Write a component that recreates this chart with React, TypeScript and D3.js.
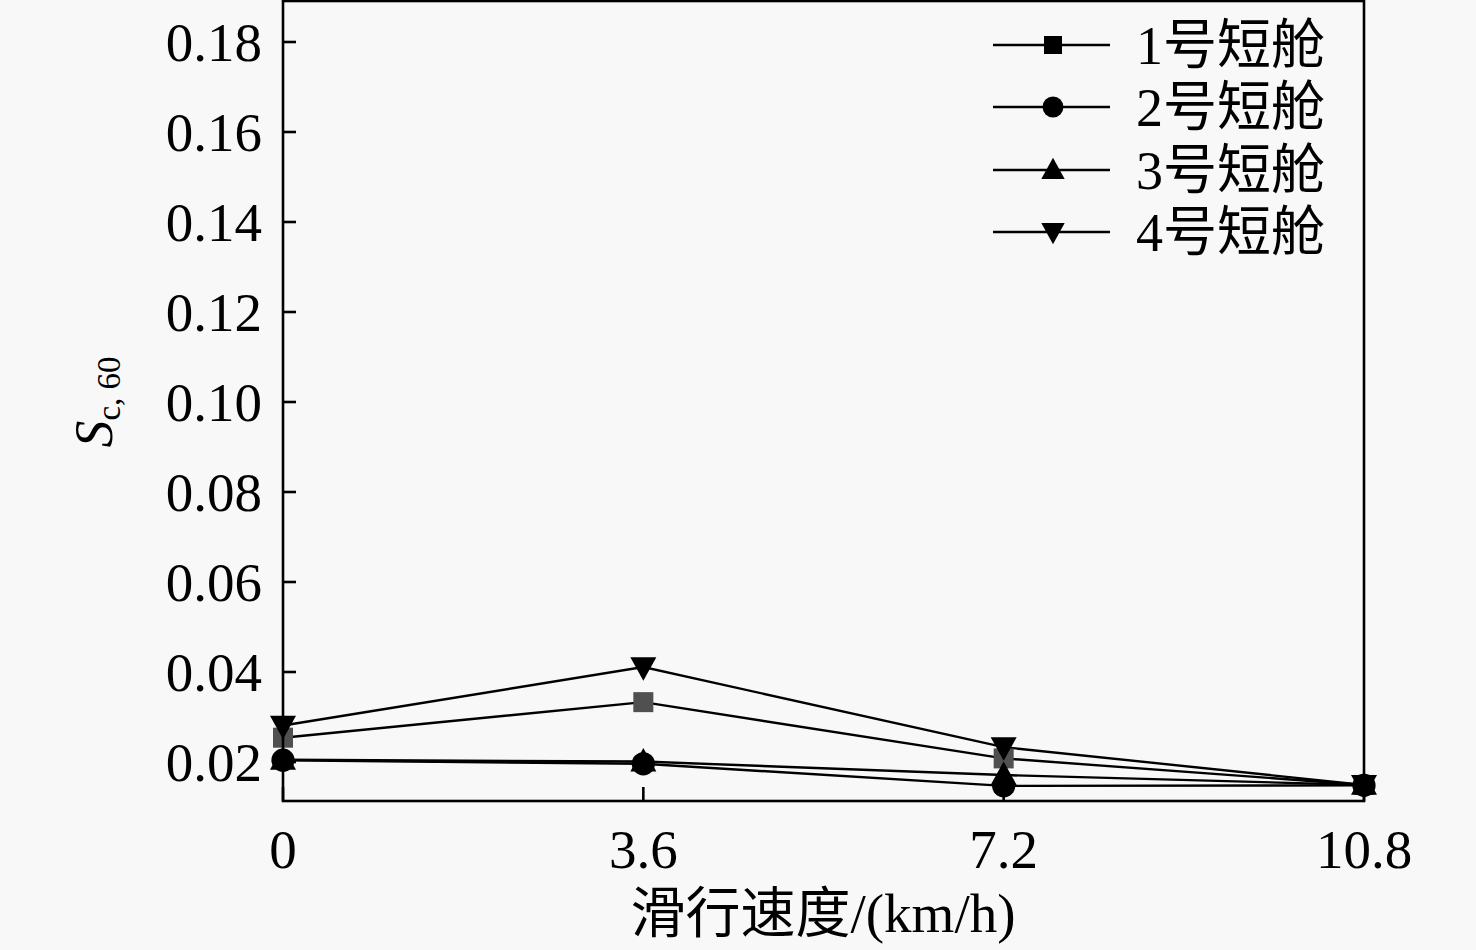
import React, { useEffect, useRef } from "react";
import * as d3 from "d3";

const speeds = [0, 3.6, 7.2, 10.8];
const xTickLabels = ["0", "3.6", "7.2", "10.8"];
const yTicks = [0.02, 0.04, 0.06, 0.08, 0.1, 0.12, 0.14, 0.16, 0.18];
const seriesNames = ["1号短舱", "2号短舱", "3号短舱", "4号短舱"];
const seriesSymbols = ["square", "circle", "triangleUp", "triangleDown"];
const nacelle1 = [0.0254, 0.0333, 0.0208, 0.0149];
const nacelle2 = [0.0204, 0.0196, 0.0147, 0.0148];
const nacelle3 = [0.0205, 0.0201, 0.0171, 0.0149];
const nacelle4 = [0.0281, 0.0411, 0.0233, 0.0149];
const seriesValues = [nacelle1, nacelle2, nacelle3, nacelle4];
const xTitle = "滑行速度/(km/h)";

const W = 1476;
const H = 950;

export default function App() {
  const ref = useRef<SVGSVGElement | null>(null);

  useEffect(() => {
    const svg = d3.select(ref.current);
    svg.selectAll("*").remove();

    const left = 283, right = 1364, top = 1, bottom = 801;
    const x = d3.scaleLinear().domain([0, 10.8]).range([left, right]);
    const y = d3.scaleLinear().domain([0.02, 0.18]).range([762, 42]);

    const serif = "'Liberation Serif', 'Times New Roman', serif";
    const mixed = "'Liberation Serif', 'Noto Sans CJK SC', serif";

    svg.append("rect").attr("width", W).attr("height", H).attr("fill", "#f8f8f8");

    const line = d3.line<number>().x((_, i) => x(speeds[i])).y((d) => y(d));
    seriesValues.forEach((vals) => {
      svg.append("path").attr("d", line(vals) as string)
        .attr("fill", "none").attr("stroke", "#000").attr("stroke-width", 2.4);
    });

    const drawMarker = (g: any, sym: string, cx: number, cy: number, s: number, fill: string) => {
      if (sym === "square") {
        g.append("rect").attr("x", cx - s / 2).attr("y", cy - s / 2).attr("width", s).attr("height", s).attr("fill", fill);
      } else if (sym === "circle") {
        g.append("circle").attr("cx", cx).attr("cy", cy).attr("r", s * 0.58).attr("fill", fill);
      } else if (sym === "triangleUp") {
        const h = s * 1.1, w = s * 1.3;
        g.append("path").attr("d", `M${cx},${cy - h * 0.62}L${cx + w / 2},${cy + h * 0.45}L${cx - w / 2},${cy + h * 0.45}Z`).attr("fill", fill);
      } else {
        const h = s * 1.1, w = s * 1.3;
        g.append("path").attr("d", `M${cx},${cy + h * 0.62}L${cx + w / 2},${cy - h * 0.45}L${cx - w / 2},${cy - h * 0.45}Z`).attr("fill", fill);
      }
    };

    const mg = svg.append("g");
    seriesValues.forEach((vals, si) => {
      vals.forEach((v, i) => {
        drawMarker(mg, seriesSymbols[si], x(speeds[i]), y(v), 20, si === 0 ? "#505050" : "#000");
      });
    });

    svg.append("rect").attr("x", left).attr("y", top).attr("width", right - left).attr("height", bottom - top)
      .attr("fill", "none").attr("stroke", "#000").attr("stroke-width", 2.6);

    yTicks.forEach((t) => {
      svg.append("line").attr("x1", left).attr("x2", left + 13).attr("y1", y(t)).attr("y2", y(t))
        .attr("stroke", "#000").attr("stroke-width", 2.6);
      svg.append("text").attr("x", 262).attr("y", y(t)).attr("dy", "0.35em").attr("text-anchor", "end")
        .attr("font-family", serif).attr("font-size", 55).attr("fill", "#000").text(t.toFixed(2));
    });

    speeds.forEach((s, i) => {
      svg.append("line").attr("x1", x(s)).attr("x2", x(s)).attr("y1", bottom).attr("y2", bottom - 14)
        .attr("stroke", "#000").attr("stroke-width", 2.6);
      svg.append("text").attr("x", x(s)).attr("y", 868).attr("text-anchor", "middle")
        .attr("font-family", serif).attr("font-size", 55).attr("fill", "#000").text(xTickLabels[i]);
    });

    svg.append("text").attr("x", 823).attr("y", 932).attr("text-anchor", "middle")
      .attr("font-family", mixed).attr("font-size", 55).attr("fill", "#000").text(xTitle);

    const yt = svg.append("text").attr("transform", "translate(112,402) rotate(-90)")
      .attr("text-anchor", "middle").attr("font-family", serif).attr("fill", "#000");
    yt.append("tspan").attr("font-size", 54).attr("font-style", "italic").text("S");
    yt.append("tspan").attr("font-size", 33).attr("dy", 8).text("c, 60");

    const legY = [45, 107, 170, 232];
    seriesNames.forEach((name, i) => {
      svg.append("line").attr("x1", 993).attr("x2", 1110).attr("y1", legY[i]).attr("y2", legY[i])
        .attr("stroke", "#000").attr("stroke-width", 2.4);
      drawMarker(svg, seriesSymbols[i], 1053, legY[i], 18, "#000");
      svg.append("text").attr("x", 1136).attr("y", legY[i]).attr("dy", "0.36em")
        .attr("font-family", mixed).attr("font-size", 54).attr("fill", "#000").text(name);
    });
  }, []);

  return (
    <svg ref={ref} width={W} height={H} style={{ position: "absolute", left: 0, top: 0, display: "block" }} />
  );
}
